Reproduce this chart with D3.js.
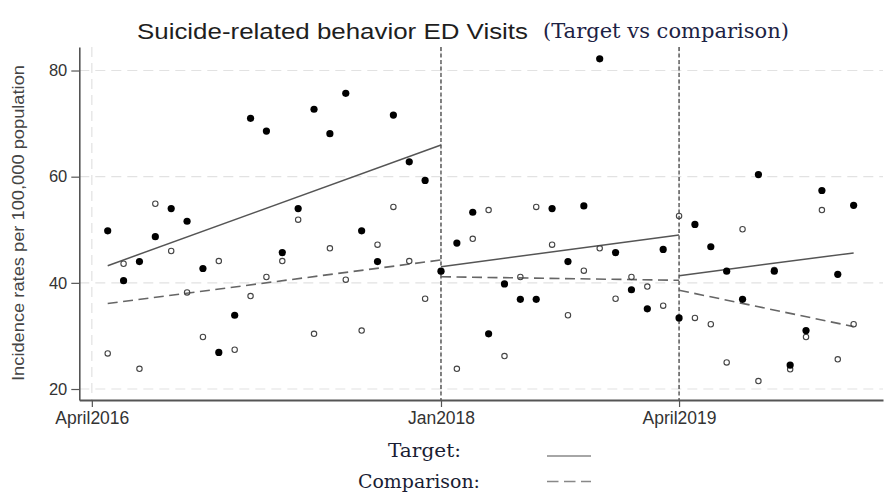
<!DOCTYPE html>
<html>
<head>
<meta charset="utf-8">
<script src="https://cdn.jsdelivr.net/npm/d3@7"></script>
<style>
  html, body { margin: 0; padding: 0; background: #fff; }
  svg { display: block; }
</style>
</head>
<body>
<script>
// Monthly index: 1 = first observed month
const months = d3.range(1, 49);

// Suicide-related behavior ED visit rates per 100,000 (target area)
const targetRates = [
  49.8, 40.4, 44.0, 48.7, 54.0, 51.6, 42.7, 26.9, 33.9, 71.0, 68.6,
  45.7, 54.0, 72.7, 68.1, 75.7, 49.8, 44.0, 71.6, 62.8, 59.3,
  42.2, 47.5, 53.3, 30.4, 39.8, 36.9, 36.9, 54.0, 44.0, 54.5, 82.2,
  45.7, 38.7, 35.1, 46.3,
  33.4, 51.0, 46.8, 42.2, 36.9, 60.4, 42.2, 24.5, 31.0, 57.4, 41.6, 54.6
];

// Rates for the comparison area
const comparisonRates = [
  26.7, 43.6, 23.8, 54.9, 46.0, 38.2, 29.8, 44.1, 27.4, 37.5, 41.1,
  44.1, 51.9, 30.4, 46.5, 40.6, 31.0, 47.2, 54.3, 44.1, 37.0,
  42.2, 23.8, 48.3, 53.7, 26.2, 41.1, 54.3, 47.2, 33.9, 42.3, 46.5,
  37.0, 41.1, 39.3, 35.7,
  52.6, 33.4, 32.2, 25.0, 50.1, 21.5, 42.4, 23.7, 29.8, 53.7, 25.6, 32.2
];

// Interruption points (month index) and axis ticks
const breakMonths = [22, 37];
const xTickMonths = [0, 22, 37];
const xTickLabels = ["April2016", "Jan2018", "April2019"];
const yTicks = [20, 40, 60, 80];

const seriesNames = ["Target:", "Comparison:"];

const W = 885, H = 496;
const plot = { left: 79.3, right: 883, top: 47, bottom: 400 };

const svg = d3.select("body").append("svg")
  .attr("width", W).attr("height", H)
  .style("font-family", "'Liberation Sans', Arial, sans-serif");

const x = d3.scaleLinear().domain([-0.79, 49.85]).range([plot.left, plot.right]);
const y = d3.scaleLinear().domain([17.93, 84.43]).range([plot.bottom, plot.top]);

// Grid lines
svg.append("g").selectAll("line").data(yTicks).join("line")
  .attr("x1", plot.left).attr("x2", plot.right)
  .attr("y1", d => y(d)).attr("y2", d => y(d))
  .attr("stroke", "#e2e2e2").attr("stroke-width", 1.2)
  .attr("stroke-dasharray", "10,6");
svg.append("g").selectAll("line").data(xTickMonths).join("line")
  .attr("x1", d => x(d)).attr("x2", d => x(d))
  .attr("y1", plot.top).attr("y2", plot.bottom)
  .attr("stroke", "#e2e2e2").attr("stroke-width", 1.2)
  .attr("stroke-dasharray", "10,6");

// Interruption reference lines
svg.append("g").selectAll("line").data(breakMonths).join("line")
  .attr("x1", d => x(d)).attr("x2", d => x(d))
  .attr("y1", plot.top).attr("y2", plot.bottom)
  .attr("stroke", "#111").attr("stroke-width", 1)
  .attr("stroke-dasharray", "4,2.5");

// Segment-wise least-squares trends
const segStarts = [1, ...breakMonths];
const lastMonth = months[months.length - 1];
function segmentFits(values) {
  return segStarts.map((s, i) => {
    const e = i + 1 < segStarts.length ? segStarts[i + 1] - 1 : lastMonth;
    const xs = months.filter(m => m >= s && m <= e);
    const ys = xs.map(m => values[m - 1]);
    const mx = d3.mean(xs), my = d3.mean(ys);
    const sxy = d3.sum(xs, (v, k) => (v - mx) * (ys[k] - my));
    const sxx = d3.sum(xs, v => (v - mx) * (v - mx));
    const b = sxy / sxx;
    const xEnd = i + 1 < segStarts.length ? segStarts[i + 1] : lastMonth;
    return [[s, my + b * (s - mx)], [xEnd, my + b * (xEnd - mx)]];
  });
}
const line = d3.line().x(d => x(d[0])).y(d => y(d[1]));

svg.append("g").selectAll("path").data(segmentFits(comparisonRates)).join("path")
  .attr("d", line).attr("fill", "none")
  .attr("stroke", "#666").attr("stroke-width", 1.6)
  .attr("stroke-dasharray", "10,5.5");
svg.append("g").selectAll("path").data(segmentFits(targetRates)).join("path")
  .attr("d", line).attr("fill", "none")
  .attr("stroke", "#555").attr("stroke-width", 1.5);

// Points: hollow for comparison, filled for target
svg.append("g").selectAll("circle").data(months).join("circle")
  .attr("cx", m => x(m)).attr("cy", m => y(comparisonRates[m - 1]))
  .attr("r", 2.7).attr("fill", "none")
  .attr("stroke", "#444").attr("stroke-width", 1.1);
svg.append("g").selectAll("circle").data(months).join("circle")
  .attr("cx", m => x(m)).attr("cy", m => y(targetRates[m - 1]))
  .attr("r", 3.6).attr("fill", "#000");

// Axes
const yAxis = svg.append("g")
  .attr("transform", `translate(${plot.left},0)`)
  .call(d3.axisLeft(y).tickValues(yTicks).tickSize(8).tickSizeOuter(0).tickPadding(4));
yAxis.select(".domain").attr("stroke", "#555").attr("stroke-width", 1.6);
yAxis.selectAll(".tick line").attr("stroke", "#555").attr("stroke-width", 1.2);
yAxis.selectAll(".tick text").attr("fill", "#333")
  .style("font-size", "16.5px").style("font-family", "'Liberation Sans', Arial, sans-serif");

const xAxis = svg.append("g")
  .attr("transform", `translate(0,${plot.bottom})`)
  .call(d3.axisBottom(x).tickValues(xTickMonths)
    .tickFormat((d, i) => xTickLabels[i]).tickSize(7).tickSizeOuter(0).tickPadding(5));
xAxis.select(".domain").attr("stroke", "#555").attr("stroke-width", 2);
xAxis.selectAll(".tick line").attr("stroke", "#555").attr("stroke-width", 1.2);
xAxis.selectAll(".tick text").attr("fill", "#333")
  .style("font-size", "17.5px").style("font-family", "'Liberation Sans', Arial, sans-serif");

// Y axis title
svg.append("text")
  .attr("transform", "translate(24,223) rotate(-90)")
  .attr("text-anchor", "middle")
  .attr("fill", "#444")
  .style("font-size", "16.5px")
  .attr("textLength", 316).attr("lengthAdjust", "spacingAndGlyphs")
  .text("Incidence rates per 100,000 population");

// Chart title
svg.append("text")
  .attr("x", 137).attr("y", 38.5)
  .attr("fill", "#1e1e1e")
  .style("font-size", "22px")
  .attr("textLength", 391).attr("lengthAdjust", "spacingAndGlyphs")
  .text("Suicide-related behavior ED Visits");
svg.append("text")
  .attr("x", 543).attr("y", 37.5)
  .attr("fill", "#1c2244")
  .style("font-family", "'DejaVu Serif', 'Liberation Serif', serif")
  .style("font-size", "20px")
  .attr("textLength", 246).attr("lengthAdjust", "spacingAndGlyphs")
  .text("(Target vs comparison)");

// Legend
const legend = [
  { label: seriesNames[0], x: 388, width: 73, y: 456.5, dash: null },
  { label: seriesNames[1], x: 358, width: 122, y: 487.5, dash: "11.5,5.5" }
];
legend.forEach((d, i) => {
  svg.append("text")
    .attr("x", d.x).attr("y", d.y)
    .attr("fill", "#1a1d33")
    .style("font-family", "'DejaVu Serif', 'Liberation Serif', serif")
    .style("font-size", "19px")
    .attr("textLength", d.width).attr("lengthAdjust", "spacingAndGlyphs")
    .text(d.label);
  svg.append("line")
    .attr("x1", 547).attr("x2", 591)
    .attr("y1", i === 0 ? 456 : 481.5).attr("y2", i === 0 ? 456 : 481.5)
    .attr("stroke", "#888").attr("stroke-width", 1.4)
    .attr("stroke-dasharray", d.dash);
});
</script>
</body>
</html>
